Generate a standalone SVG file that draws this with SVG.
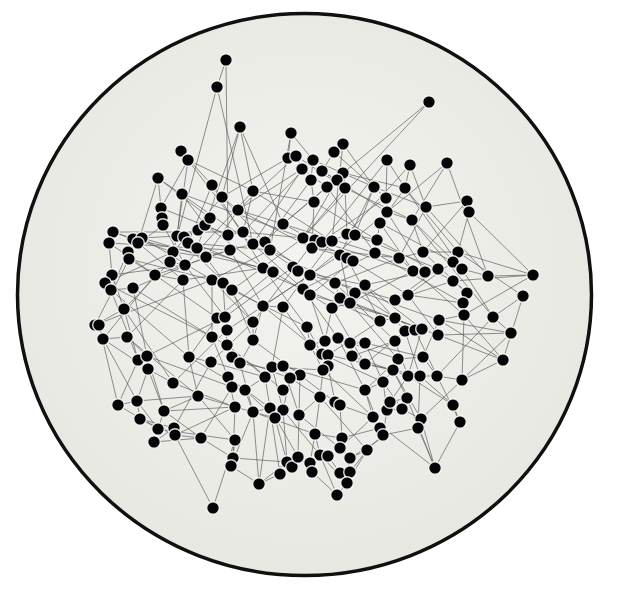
<svg xmlns="http://www.w3.org/2000/svg" width="630" height="590" viewBox="0 0 630 590">
<defs>
<radialGradient id="bg" cx="50%" cy="45%" r="55%">
<stop offset="0" stop-color="#f3f3ef"/>
<stop offset="1" stop-color="#e8e8e3"/>
</radialGradient>
</defs>
<style>
#edges path{fill:none;stroke:#555555;stroke-width:0.9;stroke-opacity:0.72}
#nodes circle{fill:#050507;stroke:#ffffff;stroke-width:1.4;stroke-opacity:0.85}
</style>
<rect width="630" height="590" fill="#ffffff"/>
<ellipse cx="304.5" cy="294.5" rx="287" ry="281" fill="url(#bg)" stroke="#101010" stroke-width="3.5"/>
<g id="edges">
<path d="M226 60L217 87"/><path d="M226 60L228 235"/><path d="M217 87L253 244"/><path d="M429 102L343 173"/><path d="M429 102L303 238"/>
<path d="M240 127L253 191"/><path d="M240 127L222 197"/><path d="M240 127L283 224"/><path d="M291 133L288 158"/><path d="M291 133L313 160"/>
<path d="M343 144L334 152"/><path d="M343 144L374 187"/><path d="M334 152L322 171"/><path d="M181 151L188 160"/><path d="M181 151L212 185"/>
<path d="M188 160L161 208"/><path d="M188 160L253 191"/><path d="M288 158L296 156"/><path d="M296 156L302 169"/><path d="M313 160L311 180"/>
<path d="M387 160L405 188"/><path d="M387 160L386 198"/><path d="M410 165L405 188"/><path d="M410 165L426 207"/><path d="M447 163L412 220"/>
<path d="M447 163L387 212"/><path d="M302 169L327 187"/><path d="M322 171L337 180"/><path d="M343 173L345 188"/><path d="M311 180L314 202"/>
<path d="M337 180L303 238"/><path d="M327 187L283 224"/><path d="M345 188L347 234"/><path d="M374 187L355 235"/><path d="M405 188L380 223"/>
<path d="M253 191L243 232"/><path d="M253 191L314 202"/><path d="M158 178L161 208"/><path d="M158 178L138 243"/><path d="M182 194L205 225"/>
<path d="M212 185L222 197"/><path d="M222 197L238 210"/><path d="M238 210L283 224"/><path d="M161 208L162 218"/><path d="M162 218L163 225"/>
<path d="M163 225L128 252"/><path d="M314 202L312 248"/><path d="M386 198L387 212"/><path d="M387 212L412 220"/><path d="M426 207L467 201"/>
<path d="M467 201L469 212"/><path d="M469 212L458 252"/><path d="M412 220L423 252"/><path d="M283 224L265 242"/><path d="M380 223L377 240"/>
<path d="M113 232L133 239"/><path d="M109 243L113 232"/><path d="M133 239L142 238"/><path d="M142 238L177 236"/><path d="M138 243L128 252"/>
<path d="M128 252L129 259"/><path d="M129 259L155 275"/><path d="M177 236L184 237"/><path d="M184 237L198 230"/><path d="M188 243L197 248"/>
<path d="M198 230L210 218"/><path d="M205 225L228 235"/><path d="M228 235L243 232"/><path d="M230 250L253 244"/><path d="M243 232L303 238"/>
<path d="M173 252L206 257"/><path d="M170 262L185 265"/><path d="M206 257L230 250"/><path d="M303 238L315 240"/><path d="M315 240L322 242"/>
<path d="M322 242L332 241"/><path d="M332 241L347 234"/><path d="M347 234L355 235"/><path d="M355 235L377 240"/><path d="M312 248L340 255"/>
<path d="M253 244L265 242"/><path d="M265 242L270 250"/><path d="M340 255L347 258"/><path d="M347 258L353 261"/><path d="M375 253L399 258"/>
<path d="M263 268L273 272"/><path d="M293 267L298 271"/><path d="M298 271L310 275"/><path d="M399 258L423 252"/><path d="M423 252L458 252"/>
<path d="M458 252L453 262"/><path d="M453 262L462 269"/><path d="M413 271L425 272"/><path d="M425 272L438 269"/><path d="M462 269L488 276"/>
<path d="M488 276L533 275"/><path d="M533 275L464 315"/><path d="M112 275L105 283"/><path d="M105 283L111 290"/><path d="M111 290L133 288"/>
<path d="M155 275L183 280"/><path d="M212 280L223 283"/><path d="M223 283L232 290"/><path d="M303 289L310 295"/><path d="M335 283L340 298"/>
<path d="M365 285L355 293"/><path d="M350 303L340 298"/><path d="M453 281L467 293"/><path d="M523 296L493 317"/><path d="M523 296L503 360"/>
<path d="M408 295L395 300"/><path d="M467 293L463 303"/><path d="M463 303L464 315"/><path d="M493 317L511 333"/><path d="M124 309L95 325"/>
<path d="M217 318L225 317"/><path d="M225 317L227 330"/><path d="M263 306L283 307"/><path d="M332 308L350 303"/><path d="M380 321L395 318"/>
<path d="M439 320L464 315"/><path d="M95 325L99 325"/><path d="M99 325L103 339"/><path d="M103 339L127 337"/><path d="M212 337L227 345"/>
<path d="M253 322L253 340"/><path d="M307 327L310 345"/><path d="M310 345L325 341"/><path d="M325 341L338 338"/><path d="M338 338L350 343"/>
<path d="M350 343L365 343"/><path d="M405 331L415 330"/><path d="M415 330L422 329"/><path d="M438 335L511 333"/><path d="M395 341L405 331"/>
<path d="M138 360L147 356"/><path d="M147 356L148 369"/><path d="M189 357L211 362"/><path d="M232 357L240 363"/><path d="M272 367L283 366"/>
<path d="M322 354L328 355"/><path d="M352 356L365 364"/><path d="M328 366L323 370"/><path d="M423 357L398 359"/><path d="M503 360L462 380"/>
<path d="M173 383L148 369"/><path d="M228 377L232 387"/><path d="M300 375L290 378"/><path d="M265 377L245 390"/><path d="M283 390L300 375"/>
<path d="M365 390L383 382"/><path d="M383 382L393 370"/><path d="M408 376L420 376"/><path d="M420 376L437 376"/><path d="M437 376L462 380"/>
<path d="M118 405L137 401"/><path d="M137 401L140 419"/><path d="M198 396L235 407"/><path d="M164 411L158 429"/><path d="M158 429L154 442"/>
<path d="M174 428L175 435"/><path d="M175 435L201 438"/><path d="M235 440L233 458"/><path d="M233 458L231 466"/><path d="M213 508L175 435"/>
<path d="M213 508L235 440"/><path d="M253 412L270 408"/><path d="M283 410L275 418"/><path d="M299 415L320 397"/><path d="M335 402L340 405"/>
<path d="M373 417L380 428"/><path d="M380 428L383 435"/><path d="M387 410L402 409"/><path d="M315 434L342 438"/><path d="M340 448L350 458"/>
<path d="M367 450L350 458"/><path d="M320 455L328 456"/><path d="M287 462L292 467"/><path d="M298 457L310 463"/><path d="M310 463L312 472"/>
<path d="M280 474L259 484"/><path d="M340 473L350 472"/><path d="M347 483L337 495"/><path d="M407 398L402 409"/><path d="M390 402L407 398"/>
<path d="M453 405L460 422"/><path d="M421 419L418 428"/><path d="M435 468L390 433"/><path d="M435 468L407 398"/><path d="M259 484L287 462"/>
<path d="M113 232L243 232"/><path d="M109 243L230 250"/><path d="M133 239L263 268"/><path d="M142 238L212 280"/><path d="M177 236L303 289"/>
<path d="M158 178L253 244"/><path d="M161 208L228 235"/><path d="M182 194L177 236"/><path d="M182 194L303 238"/><path d="M188 160L177 236"/>
<path d="M212 185L263 268"/><path d="M222 197L173 252"/><path d="M238 210L206 257"/><path d="M253 191L185 265"/><path d="M283 224L353 261"/>
<path d="M302 169L253 244"/><path d="M311 180L265 242"/><path d="M327 187L375 253"/><path d="M345 188L412 220"/><path d="M374 187L340 255"/>
<path d="M386 198L312 248"/><path d="M405 188L458 252"/><path d="M426 207L399 258"/><path d="M467 201L423 252"/><path d="M412 220L462 269"/>
<path d="M380 223L453 262"/><path d="M387 212L310 275"/><path d="M343 173L283 224"/><path d="M322 171L387 212"/><path d="M313 160L243 232"/>
<path d="M296 156L238 210"/><path d="M288 158L222 197"/><path d="M387 160L322 242"/><path d="M410 165L347 234"/><path d="M447 163L488 276"/>
<path d="M469 212L533 275"/><path d="M458 252L523 296"/><path d="M462 269L493 317"/><path d="M453 262L408 295"/><path d="M438 269L395 300"/>
<path d="M425 272L365 285"/><path d="M413 271L350 303"/><path d="M399 258L335 283"/><path d="M375 253L303 289"/><path d="M353 261L310 295"/>
<path d="M340 255L263 306"/><path d="M332 241L283 307"/><path d="M315 240L253 322"/><path d="M303 238L232 290"/><path d="M270 250L212 280"/>
<path d="M263 268L183 280"/><path d="M273 272L217 318"/><path d="M293 267L225 317"/><path d="M310 275L227 330"/><path d="M230 250L155 275"/>
<path d="M206 257L133 288"/><path d="M185 265L112 275"/><path d="M173 252L105 283"/><path d="M170 262L124 309"/><path d="M128 252L111 290"/>
<path d="M129 259L95 325"/><path d="M155 275L103 339"/><path d="M183 280L127 337"/><path d="M133 288L212 337"/><path d="M111 290L189 357"/>
<path d="M124 309L138 360"/><path d="M127 337L147 356"/><path d="M103 339L148 369"/><path d="M212 280L253 322"/><path d="M223 283L263 306"/>
<path d="M232 290L307 327"/><path d="M303 289L380 321"/><path d="M310 295L395 318"/><path d="M335 283L439 320"/><path d="M365 285L405 331"/>
<path d="M355 293L415 330"/><path d="M340 298L422 329"/><path d="M350 303L438 335"/><path d="M408 295L463 303"/><path d="M395 300L453 281"/>
<path d="M464 315L503 360"/><path d="M493 317L437 376"/><path d="M511 333L462 380"/><path d="M439 320L423 357"/><path d="M422 329L408 376"/>
<path d="M405 331L365 364"/><path d="M395 341L352 356"/><path d="M380 321L328 355"/><path d="M332 308L322 354"/><path d="M263 306L253 340"/>
<path d="M283 307L272 367"/><path d="M253 322L211 362"/><path d="M217 318L189 357"/><path d="M225 317L147 356"/><path d="M227 330L173 383"/>
<path d="M212 337L228 377"/><path d="M253 340L240 363"/><path d="M227 345L265 377"/><path d="M232 357L290 378"/><path d="M240 363L300 375"/>
<path d="M272 367L323 370"/><path d="M283 366L365 390"/><path d="M322 354L383 382"/><path d="M328 355L393 370"/><path d="M352 356L408 376"/>
<path d="M365 364L420 376"/><path d="M423 357L437 376"/><path d="M398 359L365 390"/><path d="M365 343L423 357"/><path d="M350 343L398 359"/>
<path d="M138 360L118 405"/><path d="M148 369L137 401"/><path d="M147 356L164 411"/><path d="M189 357L198 396"/><path d="M211 362L174 428"/>
<path d="M228 377L235 407"/><path d="M232 387L201 438"/><path d="M245 390L253 412"/><path d="M265 377L270 408"/><path d="M290 378L283 410"/>
<path d="M300 375L299 415"/><path d="M323 370L320 397"/><path d="M328 366L335 402"/><path d="M365 390L373 417"/><path d="M383 382L387 410"/>
<path d="M393 370L407 398"/><path d="M408 376L390 402"/><path d="M420 376L453 405"/><path d="M437 376L460 422"/><path d="M462 380L421 419"/>
<path d="M118 405L158 429"/><path d="M140 419L174 428"/><path d="M164 411L235 407"/><path d="M158 429L235 440"/><path d="M154 442L201 438"/>
<path d="M201 438L233 458"/><path d="M235 407L275 418"/><path d="M253 412L315 434"/><path d="M270 408L298 457"/><path d="M283 410L320 455"/>
<path d="M275 418L287 462"/><path d="M299 415L340 448"/><path d="M320 397L367 450"/><path d="M340 405L373 417"/><path d="M342 438L380 428"/>
<path d="M383 435L418 428"/><path d="M402 409L421 419"/><path d="M315 434L310 463"/><path d="M328 456L340 473"/><path d="M350 472L367 450"/>
<path d="M292 467L280 474"/><path d="M312 472L337 495"/><path d="M320 455L347 483"/><path d="M231 466L259 484"/><path d="M390 433L350 458"/>
<path d="M418 428L435 468"/><path d="M460 422L435 468"/><path d="M198 396L164 411"/><path d="M137 401L198 396"/><path d="M233 458L287 462"/>
<path d="M217 87L173 252"/><path d="M240 127L197 248"/><path d="M291 133L270 250"/><path d="M343 144L332 241"/><path d="M109 243L155 275"/>
<path d="M105 283L212 337"/><path d="M95 325L212 280"/><path d="M533 275L453 281"/><path d="M511 333L439 320"/><path d="M503 360L438 335"/>
<path d="M259 484L253 412"/><path d="M337 495L320 455"/><path d="M280 474L270 408"/>
<path d="M181 151L243 232"/><path d="M158 178L210 218"/><path d="M212 185L188 243"/><path d="M253 191L332 241"/><path d="M283 224L375 253"/>
<path d="M296 156L345 188"/><path d="M313 160L374 187"/><path d="M334 152L386 198"/><path d="M343 173L405 188"/><path d="M374 187L426 207"/>
<path d="M345 188L303 238"/><path d="M314 202L377 240"/><path d="M302 169L238 210"/><path d="M222 197L265 242"/><path d="M238 210L312 248"/>
<path d="M243 232L293 267"/><path d="M205 225L263 268"/><path d="M188 243L270 250"/><path d="M197 248L273 272"/><path d="M177 236L232 290"/>
<path d="M163 225L185 265"/><path d="M142 238L206 257"/><path d="M113 232L173 252"/><path d="M109 243L112 275"/><path d="M138 243L183 280"/>
<path d="M129 259L212 280"/><path d="M112 275L124 309"/><path d="M155 275L217 318"/><path d="M185 265L225 317"/><path d="M206 257L253 322"/>
<path d="M230 250L263 306"/><path d="M253 244L303 289"/><path d="M270 250L335 283"/><path d="M265 242L340 298"/><path d="M273 272L332 308"/>
<path d="M263 268L307 327"/><path d="M298 271L365 285"/><path d="M310 275L395 300"/><path d="M312 248L399 258"/><path d="M322 242L413 271"/>
<path d="M355 235L438 269"/><path d="M377 240L453 281"/><path d="M375 253L463 303"/><path d="M353 261L408 295"/><path d="M347 258L380 321"/>
<path d="M340 255L350 303"/><path d="M423 252L467 293"/><path d="M399 258L464 315"/><path d="M412 220L493 317"/><path d="M426 207L488 276"/>
<path d="M458 252L533 275"/><path d="M405 188L462 269"/><path d="M387 212L425 272"/><path d="M380 223L413 271"/><path d="M335 283L395 341"/>
<path d="M303 289L338 338"/><path d="M310 295L325 341"/><path d="M283 307L310 345"/><path d="M263 306L322 354"/><path d="M232 290L253 340"/>
<path d="M223 283L227 345"/><path d="M212 280L212 337"/><path d="M183 280L189 357"/><path d="M133 288L147 356"/><path d="M111 290L138 360"/>
<path d="M124 309L173 383"/><path d="M127 337L198 396"/><path d="M103 339L137 401"/><path d="M99 325L118 405"/><path d="M147 356L232 387"/>
<path d="M189 357L245 390"/><path d="M211 362L265 377"/><path d="M227 345L283 390"/><path d="M253 340L300 375"/><path d="M307 327L328 366"/>
<path d="M332 308L365 364"/><path d="M350 303L398 359"/><path d="M365 285L422 329"/><path d="M408 295L438 335"/><path d="M439 320L503 360"/>
<path d="M464 315L462 380"/><path d="M415 330L437 376"/><path d="M405 331L420 376"/><path d="M395 341L408 376"/><path d="M365 343L383 382"/>
<path d="M338 338L365 390"/><path d="M310 345L323 370"/><path d="M283 366L299 415"/><path d="M272 367L283 410"/><path d="M240 363L253 412"/>
<path d="M228 377L270 408"/><path d="M173 383L235 407"/><path d="M148 369L164 411"/><path d="M137 401L158 429"/><path d="M164 411L201 438"/>
<path d="M198 396L235 440"/><path d="M235 407L233 458"/><path d="M245 390L275 418"/><path d="M290 378L320 397"/><path d="M300 375L335 402"/>
<path d="M323 370L373 417"/><path d="M365 390L380 428"/><path d="M383 382L402 409"/><path d="M393 370L421 419"/><path d="M408 376L453 405"/>
<path d="M420 376L418 428"/><path d="M387 410L383 435"/><path d="M340 405L342 438"/><path d="M320 397L315 434"/><path d="M299 415L298 457"/>
<path d="M283 410L287 462"/><path d="M270 408L259 484"/><path d="M253 412L231 466"/><path d="M315 434L320 455"/><path d="M342 438L350 472"/>
<path d="M367 450L347 483"/><path d="M383 435L367 450"/><path d="M421 419L435 468"/><path d="M373 417L340 448"/><path d="M175 435L235 407"/>
<path d="M154 442L174 428"/><path d="M140 419L175 435"/>
</g>
<g id="nodes">
<g id="n1"><circle cx="226" cy="60" r="6.3"/></g>
<g id="n2"><circle cx="217" cy="87" r="6.3"/></g>
<g id="n3"><circle cx="429" cy="102" r="6.3"/></g>
<g id="n4"><circle cx="240" cy="127" r="6.3"/></g>
<g id="n5"><circle cx="291" cy="133" r="6.3"/></g>
<g id="n6"><circle cx="181" cy="151" r="6.3"/></g>
<g id="n7"><circle cx="188" cy="160" r="6.3"/></g>
<g id="n8"><circle cx="343" cy="144" r="6.3"/></g>
<g id="n9"><circle cx="334" cy="152" r="6.3"/></g>
<g id="n10"><circle cx="288" cy="158" r="6.3"/></g>
<g id="n11"><circle cx="296" cy="156" r="6.3"/></g>
<g id="n12"><circle cx="313" cy="160" r="6.3"/></g>
<g id="n13"><circle cx="387" cy="160" r="6.3"/></g>
<g id="n14"><circle cx="410" cy="165" r="6.3"/></g>
<g id="n15"><circle cx="447" cy="163" r="6.3"/></g>
<g id="n16"><circle cx="302" cy="169" r="6.3"/></g>
<g id="n17"><circle cx="322" cy="171" r="6.3"/></g>
<g id="n18"><circle cx="343" cy="173" r="6.3"/></g>
<g id="n19"><circle cx="311" cy="180" r="6.3"/></g>
<g id="n20"><circle cx="337" cy="180" r="6.3"/></g>
<g id="n21"><circle cx="327" cy="187" r="6.3"/></g>
<g id="n22"><circle cx="345" cy="188" r="6.3"/></g>
<g id="n23"><circle cx="374" cy="187" r="6.3"/></g>
<g id="n24"><circle cx="405" cy="188" r="6.3"/></g>
<g id="n25"><circle cx="253" cy="191" r="6.3"/></g>
<g id="n26"><circle cx="158" cy="178" r="6.3"/></g>
<g id="n27"><circle cx="182" cy="194" r="6.3"/></g>
<g id="n28"><circle cx="212" cy="185" r="6.3"/></g>
<g id="n29"><circle cx="222" cy="197" r="6.3"/></g>
<g id="n30"><circle cx="238" cy="210" r="6.3"/></g>
<g id="n31"><circle cx="161" cy="208" r="6.3"/></g>
<g id="n32"><circle cx="162" cy="218" r="6.3"/></g>
<g id="n33"><circle cx="163" cy="225" r="6.3"/></g>
<g id="n34"><circle cx="314" cy="202" r="6.3"/></g>
<g id="n35"><circle cx="386" cy="198" r="6.3"/></g>
<g id="n36"><circle cx="387" cy="212" r="6.3"/></g>
<g id="n37"><circle cx="426" cy="207" r="6.3"/></g>
<g id="n38"><circle cx="467" cy="201" r="6.3"/></g>
<g id="n39"><circle cx="469" cy="212" r="6.3"/></g>
<g id="n40"><circle cx="412" cy="220" r="6.3"/></g>
<g id="n41"><circle cx="283" cy="224" r="6.3"/></g>
<g id="n42"><circle cx="380" cy="223" r="6.3"/></g>
<g id="n43"><circle cx="113" cy="232" r="6.3"/></g>
<g id="n44"><circle cx="109" cy="243" r="6.3"/></g>
<g id="n45"><circle cx="133" cy="239" r="6.3"/></g>
<g id="n46"><circle cx="142" cy="238" r="6.3"/></g>
<g id="n47"><circle cx="138" cy="243" r="6.3"/></g>
<g id="n48"><circle cx="128" cy="252" r="6.3"/></g>
<g id="n49"><circle cx="129" cy="259" r="6.3"/></g>
<g id="n50"><circle cx="177" cy="236" r="6.3"/></g>
<g id="n51"><circle cx="184" cy="237" r="6.3"/></g>
<g id="n52"><circle cx="188" cy="243" r="6.3"/></g>
<g id="n53"><circle cx="197" cy="248" r="6.3"/></g>
<g id="n54"><circle cx="198" cy="230" r="6.3"/></g>
<g id="n55"><circle cx="205" cy="225" r="6.3"/></g>
<g id="n56"><circle cx="210" cy="218" r="6.3"/></g>
<g id="n57"><circle cx="228" cy="235" r="6.3"/></g>
<g id="n58"><circle cx="230" cy="250" r="6.3"/></g>
<g id="n59"><circle cx="243" cy="232" r="6.3"/></g>
<g id="n60"><circle cx="173" cy="252" r="6.3"/></g>
<g id="n61"><circle cx="170" cy="262" r="6.3"/></g>
<g id="n62"><circle cx="185" cy="265" r="6.3"/></g>
<g id="n63"><circle cx="206" cy="257" r="6.3"/></g>
<g id="n64"><circle cx="303" cy="238" r="6.3"/></g>
<g id="n65"><circle cx="315" cy="240" r="6.3"/></g>
<g id="n66"><circle cx="312" cy="248" r="6.3"/></g>
<g id="n67"><circle cx="322" cy="242" r="6.3"/></g>
<g id="n68"><circle cx="332" cy="241" r="6.3"/></g>
<g id="n69"><circle cx="347" cy="234" r="6.3"/></g>
<g id="n70"><circle cx="355" cy="235" r="6.3"/></g>
<g id="n71"><circle cx="377" cy="240" r="6.3"/></g>
<g id="n72"><circle cx="253" cy="244" r="6.3"/></g>
<g id="n73"><circle cx="265" cy="242" r="6.3"/></g>
<g id="n74"><circle cx="270" cy="250" r="6.3"/></g>
<g id="n75"><circle cx="340" cy="255" r="6.3"/></g>
<g id="n76"><circle cx="347" cy="258" r="6.3"/></g>
<g id="n77"><circle cx="353" cy="261" r="6.3"/></g>
<g id="n78"><circle cx="375" cy="253" r="6.3"/></g>
<g id="n79"><circle cx="263" cy="268" r="6.3"/></g>
<g id="n80"><circle cx="273" cy="272" r="6.3"/></g>
<g id="n81"><circle cx="293" cy="267" r="6.3"/></g>
<g id="n82"><circle cx="298" cy="271" r="6.3"/></g>
<g id="n83"><circle cx="310" cy="275" r="6.3"/></g>
<g id="n84"><circle cx="399" cy="258" r="6.3"/></g>
<g id="n85"><circle cx="423" cy="252" r="6.3"/></g>
<g id="n86"><circle cx="458" cy="252" r="6.3"/></g>
<g id="n87"><circle cx="453" cy="262" r="6.3"/></g>
<g id="n88"><circle cx="462" cy="269" r="6.3"/></g>
<g id="n89"><circle cx="413" cy="271" r="6.3"/></g>
<g id="n90"><circle cx="425" cy="272" r="6.3"/></g>
<g id="n91"><circle cx="438" cy="269" r="6.3"/></g>
<g id="n92"><circle cx="488" cy="276" r="6.3"/></g>
<g id="n93"><circle cx="533" cy="275" r="6.3"/></g>
<g id="n94"><circle cx="112" cy="275" r="6.3"/></g>
<g id="n95"><circle cx="155" cy="275" r="6.3"/></g>
<g id="n96"><circle cx="183" cy="280" r="6.3"/></g>
<g id="n97"><circle cx="105" cy="283" r="6.3"/></g>
<g id="n98"><circle cx="111" cy="290" r="6.3"/></g>
<g id="n99"><circle cx="133" cy="288" r="6.3"/></g>
<g id="n100"><circle cx="212" cy="280" r="6.3"/></g>
<g id="n101"><circle cx="223" cy="283" r="6.3"/></g>
<g id="n102"><circle cx="232" cy="290" r="6.3"/></g>
<g id="n103"><circle cx="303" cy="289" r="6.3"/></g>
<g id="n104"><circle cx="310" cy="295" r="6.3"/></g>
<g id="n105"><circle cx="335" cy="283" r="6.3"/></g>
<g id="n106"><circle cx="365" cy="285" r="6.3"/></g>
<g id="n107"><circle cx="355" cy="293" r="6.3"/></g>
<g id="n108"><circle cx="340" cy="298" r="6.3"/></g>
<g id="n109"><circle cx="350" cy="303" r="6.3"/></g>
<g id="n110"><circle cx="453" cy="281" r="6.3"/></g>
<g id="n111"><circle cx="523" cy="296" r="6.3"/></g>
<g id="n112"><circle cx="408" cy="295" r="6.3"/></g>
<g id="n113"><circle cx="395" cy="300" r="6.3"/></g>
<g id="n114"><circle cx="467" cy="293" r="6.3"/></g>
<g id="n115"><circle cx="463" cy="303" r="6.3"/></g>
<g id="n116"><circle cx="464" cy="315" r="6.3"/></g>
<g id="n117"><circle cx="493" cy="317" r="6.3"/></g>
<g id="n118"><circle cx="124" cy="309" r="6.3"/></g>
<g id="n119"><circle cx="217" cy="318" r="6.3"/></g>
<g id="n120"><circle cx="225" cy="317" r="6.3"/></g>
<g id="n121"><circle cx="227" cy="330" r="6.3"/></g>
<g id="n122"><circle cx="263" cy="306" r="6.3"/></g>
<g id="n123"><circle cx="283" cy="307" r="6.3"/></g>
<g id="n124"><circle cx="332" cy="308" r="6.3"/></g>
<g id="n125"><circle cx="380" cy="321" r="6.3"/></g>
<g id="n126"><circle cx="395" cy="318" r="6.3"/></g>
<g id="n127"><circle cx="439" cy="320" r="6.3"/></g>
<g id="n128"><circle cx="95" cy="325" r="6.3"/></g>
<g id="n129"><circle cx="99" cy="325" r="6.3"/></g>
<g id="n130"><circle cx="103" cy="339" r="6.3"/></g>
<g id="n131"><circle cx="127" cy="337" r="6.3"/></g>
<g id="n132"><circle cx="212" cy="337" r="6.3"/></g>
<g id="n133"><circle cx="253" cy="322" r="6.3"/></g>
<g id="n134"><circle cx="307" cy="327" r="6.3"/></g>
<g id="n135"><circle cx="253" cy="340" r="6.3"/></g>
<g id="n136"><circle cx="310" cy="345" r="6.3"/></g>
<g id="n137"><circle cx="325" cy="341" r="6.3"/></g>
<g id="n138"><circle cx="338" cy="338" r="6.3"/></g>
<g id="n139"><circle cx="350" cy="343" r="6.3"/></g>
<g id="n140"><circle cx="365" cy="343" r="6.3"/></g>
<g id="n141"><circle cx="405" cy="331" r="6.3"/></g>
<g id="n142"><circle cx="415" cy="330" r="6.3"/></g>
<g id="n143"><circle cx="422" cy="329" r="6.3"/></g>
<g id="n144"><circle cx="438" cy="335" r="6.3"/></g>
<g id="n145"><circle cx="511" cy="333" r="6.3"/></g>
<g id="n146"><circle cx="395" cy="341" r="6.3"/></g>
<g id="n147"><circle cx="138" cy="360" r="6.3"/></g>
<g id="n148"><circle cx="147" cy="356" r="6.3"/></g>
<g id="n149"><circle cx="148" cy="369" r="6.3"/></g>
<g id="n150"><circle cx="189" cy="357" r="6.3"/></g>
<g id="n151"><circle cx="227" cy="345" r="6.3"/></g>
<g id="n152"><circle cx="211" cy="362" r="6.3"/></g>
<g id="n153"><circle cx="232" cy="357" r="6.3"/></g>
<g id="n154"><circle cx="240" cy="363" r="6.3"/></g>
<g id="n155"><circle cx="272" cy="367" r="6.3"/></g>
<g id="n156"><circle cx="283" cy="366" r="6.3"/></g>
<g id="n157"><circle cx="322" cy="354" r="6.3"/></g>
<g id="n158"><circle cx="328" cy="355" r="6.3"/></g>
<g id="n159"><circle cx="352" cy="356" r="6.3"/></g>
<g id="n160"><circle cx="328" cy="366" r="6.3"/></g>
<g id="n161"><circle cx="323" cy="370" r="6.3"/></g>
<g id="n162"><circle cx="365" cy="364" r="6.3"/></g>
<g id="n163"><circle cx="423" cy="357" r="6.3"/></g>
<g id="n164"><circle cx="398" cy="359" r="6.3"/></g>
<g id="n165"><circle cx="503" cy="360" r="6.3"/></g>
<g id="n166"><circle cx="173" cy="383" r="6.3"/></g>
<g id="n167"><circle cx="228" cy="377" r="6.3"/></g>
<g id="n168"><circle cx="232" cy="387" r="6.3"/></g>
<g id="n169"><circle cx="300" cy="375" r="6.3"/></g>
<g id="n170"><circle cx="290" cy="378" r="6.3"/></g>
<g id="n171"><circle cx="265" cy="377" r="6.3"/></g>
<g id="n172"><circle cx="245" cy="390" r="6.3"/></g>
<g id="n173"><circle cx="283" cy="390" r="6.3"/></g>
<g id="n174"><circle cx="365" cy="390" r="6.3"/></g>
<g id="n175"><circle cx="383" cy="382" r="6.3"/></g>
<g id="n176"><circle cx="393" cy="370" r="6.3"/></g>
<g id="n177"><circle cx="408" cy="376" r="6.3"/></g>
<g id="n178"><circle cx="420" cy="376" r="6.3"/></g>
<g id="n179"><circle cx="437" cy="376" r="6.3"/></g>
<g id="n180"><circle cx="462" cy="380" r="6.3"/></g>
<g id="n181"><circle cx="118" cy="405" r="6.3"/></g>
<g id="n182"><circle cx="137" cy="401" r="6.3"/></g>
<g id="n183"><circle cx="198" cy="396" r="6.3"/></g>
<g id="n184"><circle cx="140" cy="419" r="6.3"/></g>
<g id="n185"><circle cx="164" cy="411" r="6.3"/></g>
<g id="n186"><circle cx="158" cy="429" r="6.3"/></g>
<g id="n187"><circle cx="154" cy="442" r="6.3"/></g>
<g id="n188"><circle cx="174" cy="428" r="6.3"/></g>
<g id="n189"><circle cx="175" cy="435" r="6.3"/></g>
<g id="n190"><circle cx="201" cy="438" r="6.3"/></g>
<g id="n191"><circle cx="235" cy="407" r="6.3"/></g>
<g id="n192"><circle cx="235" cy="440" r="6.3"/></g>
<g id="n193"><circle cx="233" cy="458" r="6.3"/></g>
<g id="n194"><circle cx="231" cy="466" r="6.3"/></g>
<g id="n195"><circle cx="213" cy="508" r="6.3"/></g>
<g id="n196"><circle cx="253" cy="412" r="6.3"/></g>
<g id="n197"><circle cx="270" cy="408" r="6.3"/></g>
<g id="n198"><circle cx="283" cy="410" r="6.3"/></g>
<g id="n199"><circle cx="275" cy="418" r="6.3"/></g>
<g id="n200"><circle cx="299" cy="415" r="6.3"/></g>
<g id="n201"><circle cx="320" cy="397" r="6.3"/></g>
<g id="n202"><circle cx="335" cy="402" r="6.3"/></g>
<g id="n203"><circle cx="340" cy="405" r="6.3"/></g>
<g id="n204"><circle cx="373" cy="417" r="6.3"/></g>
<g id="n205"><circle cx="380" cy="428" r="6.3"/></g>
<g id="n206"><circle cx="383" cy="435" r="6.3"/></g>
<g id="n207"><circle cx="387" cy="410" r="6.3"/></g>
<g id="n208"><circle cx="315" cy="434" r="6.3"/></g>
<g id="n209"><circle cx="342" cy="438" r="6.3"/></g>
<g id="n210"><circle cx="340" cy="448" r="6.3"/></g>
<g id="n211"><circle cx="367" cy="450" r="6.3"/></g>
<g id="n212"><circle cx="350" cy="458" r="6.3"/></g>
<g id="n213"><circle cx="320" cy="455" r="6.3"/></g>
<g id="n214"><circle cx="328" cy="456" r="6.3"/></g>
<g id="n215"><circle cx="287" cy="462" r="6.3"/></g>
<g id="n216"><circle cx="292" cy="467" r="6.3"/></g>
<g id="n217"><circle cx="298" cy="457" r="6.3"/></g>
<g id="n218"><circle cx="310" cy="463" r="6.3"/></g>
<g id="n219"><circle cx="312" cy="472" r="6.3"/></g>
<g id="n220"><circle cx="280" cy="474" r="6.3"/></g>
<g id="n221"><circle cx="340" cy="473" r="6.3"/></g>
<g id="n222"><circle cx="350" cy="472" r="6.3"/></g>
<g id="n223"><circle cx="347" cy="483" r="6.3"/></g>
<g id="n224"><circle cx="259" cy="484" r="6.3"/></g>
<g id="n225"><circle cx="337" cy="495" r="6.3"/></g>
<g id="n226"><circle cx="407" cy="398" r="6.3"/></g>
<g id="n227"><circle cx="402" cy="409" r="6.3"/></g>
<g id="n228"><circle cx="390" cy="402" r="6.3"/></g>
<g id="n229"><circle cx="453" cy="405" r="6.3"/></g>
<g id="n230"><circle cx="460" cy="422" r="6.3"/></g>
<g id="n231"><circle cx="421" cy="419" r="6.3"/></g>
<g id="n232"><circle cx="418" cy="428" r="6.3"/></g>
<g id="n233"><circle cx="435" cy="468" r="6.3"/></g>
</g>
</svg>
